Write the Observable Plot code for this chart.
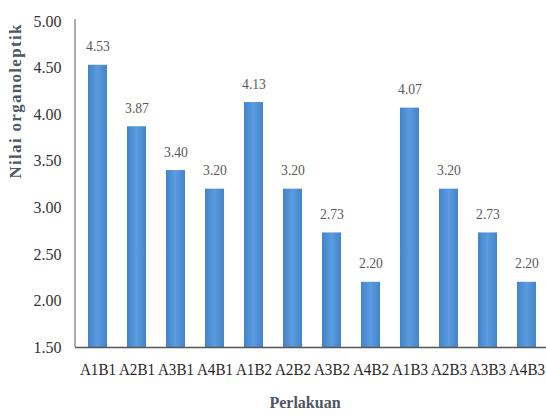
<!DOCTYPE html>
<html>
<head>
<meta charset="utf-8">
<script src="https://cdn.jsdelivr.net/npm/d3@7"></script>
<script src="https://cdn.jsdelivr.net/npm/@observablehq/plot@0.6"></script>
<style>
  html, body { margin: 0; padding: 0; background: #fff; }
</style>
</head>
<body>
<div id="chart"></div>
<script>
// Treatment combinations and their mean organoleptic scores
const perlakuan = ["A1B1", "A2B1", "A3B1", "A4B1", "A1B2", "A2B2", "A3B2", "A4B2", "A1B3", "A2B3", "A3B3", "A4B3"];
const nilai = [4.53, 3.87, 3.40, 3.20, 4.13, 3.20, 2.73, 2.20, 4.07, 3.20, 2.73, 2.20];
const yTicks = [1.5, 2.0, 2.5, 3.0, 3.5, 4.0, 4.5, 5.0];
const yBase = 1.5;

const data = perlakuan.map((k, i) => ({ k, v: nilai[i] }));
const serif = "Liberation Serif";
const fmt = d3.format(".2f");

// Horizontal shading for the bars
const gradientDefs = () => {
  const defs = d3.create("svg:defs");
  const lg = defs.append("linearGradient").attr("id", "barGrad")
    .attr("x1", "0%").attr("x2", "100%").attr("y1", "0%").attr("y2", "0%");
  lg.append("stop").attr("offset", "0%").attr("stop-color", "#4283ca");
  lg.append("stop").attr("offset", "50%").attr("stop-color", "#5b9ce0");
  lg.append("stop").attr("offset", "100%").attr("stop-color", "#4283ca");
  return defs.node();
};

// Vertical axis line along the left edge of the frame
const yAxisLine = (index, scales, values, dims) =>
  d3.create("svg:line")
    .attr("x1", dims.marginLeft).attr("x2", dims.marginLeft)
    .attr("y1", dims.marginTop - 2).attr("y2", dims.height - dims.marginBottom)
    .attr("stroke", "#8a8a8a").attr("stroke-width", 1.4)
    .node();

const chart = Plot.plot({
  width: 546,
  height: 416,
  marginLeft: 75,
  marginRight: 0,
  marginTop: 21,
  marginBottom: 69,
  style: { background: "#fff", overflow: "visible", fontFamily: serif },
  x: { domain: perlakuan, range: [75, 548], paddingInner: 0.52, paddingOuter: 0.26, align: 0.5, label: null },
  y: { domain: [yBase, 5], label: null },
  marks: [
    gradientDefs,
    Plot.barY(data, { x: "k", y1: yBase, y2: "v", fill: "url(#barGrad)" }),
    Plot.text(data, {
      x: "k", y: "v", text: d => fmt(d.v), dy: -19,
      fontSize: 15.5, fontFamily: serif, fill: "#595959"
    }),
    Plot.text(["Nilai organoleptik"], {
      frameAnchor: "left", rotate: -90, dx: -60, dy: -6,
      fontSize: 17, fontFamily: serif, fontWeight: "bold", fill: "#4d5566"
    }),
    Plot.text(["Perlakuan"], {
      frameAnchor: "bottom", dx: -6, dy: 60,
      fontSize: 16, fontFamily: serif, fontWeight: "bold", fill: "#4d5566"
    }),
    Plot.ruleY([yBase], { stroke: "#555", strokeWidth: 1.5 }),
    yAxisLine,
    Plot.axisY({
      ticks: yTicks, tickFormat: fmt, tickSize: 0, tickPadding: 14,
      fontSize: 16.5, fontFamily: serif, fill: "#333", label: null
    }),
    Plot.axisX({
      tickSize: 0, tickPadding: 15, fontSize: 17, fontFamily: serif, fill: "#262626", label: null
    })
  ]
});

document.getElementById("chart").appendChild(chart);

// Narrow labels horizontally around their anchor point
const narrow = k => el => {
  const t = el.getAttribute("transform") || "";
  el.setAttribute("transform", (t + ` scale(${k},1)`).trim());
};
chart.querySelectorAll('g[aria-label="x-axis tick label"] text').forEach(narrow(0.89));
chart.querySelectorAll('g[aria-label="y-axis tick label"] text').forEach(narrow(0.97));
const textGroups = chart.querySelectorAll('g[aria-label="text"]');
textGroups[0].querySelectorAll("text").forEach(narrow(0.88));
textGroups[1].querySelectorAll("text").forEach(el => el.style.letterSpacing = "1.3px");
</script>
</body>
</html>
